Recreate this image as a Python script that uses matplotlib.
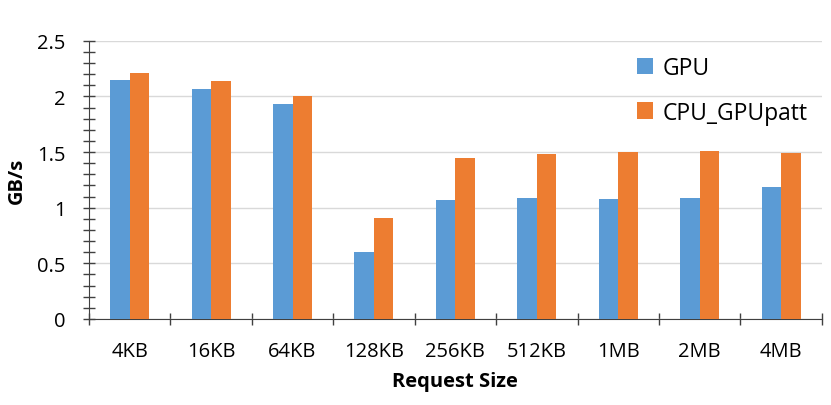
import numpy as np
import matplotlib.pyplot as plt
from matplotlib.ticker import MultipleLocator, FormatStrFormatter

plt.rcParams['font.family'] = ['Open Sans', 'DejaVu Sans']

# data
sizes = ['4KB', '16KB', '64KB', '128KB', '256KB', '512KB', '1MB', '2MB', '4MB']
gpu = [2.15, 2.07, 1.93, 0.60, 1.07, 1.09, 1.08, 1.09, 1.19]
cpu_gpupatt = [2.21, 2.14, 2.00, 0.91, 1.45, 1.48, 1.50, 1.51, 1.49]
yticks = [0, 0.5, 1, 1.5, 2, 2.5]

x = np.arange(len(sizes))
w = 0.24

fig = plt.figure(figsize=(8.31, 4.06), dpi=100)
ax = fig.add_axes([0.107, 0.212, 0.882, 0.685])

ax.bar(x - w / 2, gpu, w, color='#5b9bd5', label='GPU', zorder=3)
ax.bar(x + w / 2, cpu_gpupatt, w, color='#ed7d31', label='CPU_GPUpatt', zorder=3)

ax.set_xlim(-0.5, len(sizes) - 0.5)
ax.set_ylim(0, 2.5)

ax.set_xticks(x)
ax.set_xticklabels(sizes, fontsize=14.5)
ax.set_xticks(np.arange(len(sizes) + 1) - 0.5, minor=True)
ax.tick_params(axis='x', which='major', length=0, pad=16)
ax.tick_params(axis='x', which='minor', direction='inout', length=9, width=1, color='#404040')

ax.set_yticks(yticks)
ax.yaxis.set_major_formatter(FormatStrFormatter('%g'))
ax.yaxis.set_minor_locator(MultipleLocator(0.1))
ax.tick_params(axis='y', which='both', direction='inout', length=8, width=1,
               color='#404040', pad=13, labelsize=14.5)

ax.grid(axis='y', color='#d9d9d9', linewidth=1, zorder=0)
for s in ['top', 'right']:
    ax.spines[s].set_visible(False)
ax.spines['left'].set_color('#404040')
ax.spines['bottom'].set_color('#404040')

ax.set_ylabel('GB/s', fontsize=14.5, fontweight='bold', labelpad=7)
ax.set_xlabel('Request Size', fontsize=14.5, fontweight='bold', labelpad=7)

ax.legend(loc='upper left', bbox_to_anchor=(0.72, 1.02), frameon=False,
          fontsize=16.5, handlelength=0.7, handleheight=0.7, handletextpad=0.4,
          labelspacing=0.9)

fig.savefig('out.png', dpi=100)
